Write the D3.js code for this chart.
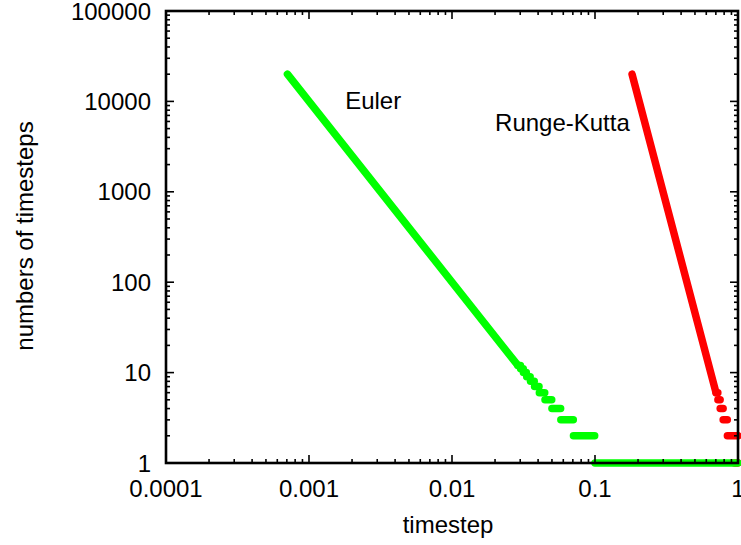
<!DOCTYPE html>
<meta charset="utf-8">
<head>
  <script src="https://d3js.org/d3.v7.min.js"></script>
  <style>
    body { margin: 0; background: #fff; }
    svg { display: block; font-family: "Liberation Sans", Arial, sans-serif; }
  </style>
</head>
<body>
<div id="chart"></div>
<script>

// tick labels
var xTicks = [0.0001, 0.001, 0.01, 0.1, 1];
var xTickLabels = ["0.0001", "0.001", "0.01", "0.1", "1"];
var yTicks = [1, 10, 100, 1000, 10000, 100000];
var yTickLabels = ["1", "10", "100", "1000", "10000", "100000"];

// Euler: dense part (timestep, n) and the plateaus [from, to, n]
var eulerDense = [[0.000707, 20000], [0.0289, 12]];
var eulerSteps = [
  [0.1, 1, 1], [0.0707, 0.0995, 2], [0.0577, 0.0705, 3], [0.05, 0.0575, 4],
  [0.0447, 0.0498, 5], [0.0408, 0.0445, 6], [0.0378, 0.0406, 7], [0.0354, 0.0376, 8],
  [0.0333, 0.0352, 9], [0.0316, 0.0331, 10], [0.0302, 0.0315, 11], [0.0289, 0.0301, 12]
];

// Runge-Kutta
var rkDense = [[0.1816, 20000], [0.7017, 6]];
var rkSteps = [
  [0.9459, 1, 1], [0.8427, 1, 2], [0.7876, 0.842, 3], [0.7507, 0.787, 4],
  [0.7233, 0.750, 5], [0.7017, 0.723, 6]
];

var labels = [
  {text: "Euler", x: 0.00179, y: 8240},
  {text: "Runge-Kutta", x: 0.0200, y: 4710}
];

var W = 741, H = 545;
var margin = {top: 11, right: 3, bottom: 82, left: 166};

var svg = d3.select("#chart").append("svg")
  .attr("width", W).attr("height", H);

var x = d3.scaleLog().domain([0.0001, 1]).range([margin.left, W - margin.right]);
var y = d3.scaleLog().domain([1, 100000]).range([H - margin.bottom, margin.top]);

var line = d3.line().x(function(d) { return x(d[0]); }).y(function(d) { return y(d[1]); });

function drawSeries(dense, steps, color) {
  var g = svg.append("g")
    .attr("stroke", color).attr("stroke-width", 7.5)
    .attr("stroke-linecap", "round").attr("fill", "none");
  g.append("path").attr("d", line(dense));
  g.selectAll("line").data(steps).enter().append("line")
    .attr("x1", function(d) { return x(d[0]); })
    .attr("x2", function(d) { return x(d[1]); })
    .attr("y1", function(d) { return y(d[2]); })
    .attr("y2", function(d) { return y(d[2]); });
}

drawSeries(rkDense, rkSteps, "#ff0000");
drawSeries(eulerDense, eulerSteps, "#00ff00");

// minor ticks
var xMinor = [], yMinor = [];
xTicks.slice(0, -1).forEach(function(t) { for (var k = 2; k < 10; k++) xMinor.push(t * k); });
yTicks.slice(0, -1).forEach(function(t) { for (var k = 2; k < 10; k++) yMinor.push(t * k); });

var x0 = x.range()[0], x1 = x.range()[1], y0 = y.range()[0], y1 = y.range()[1];
var ticks = svg.append("g").attr("stroke", "#000").attr("stroke-width", 1.6);

function xTickLines(vals, len) {
  vals.forEach(function(v) {
    ticks.append("line").attr("x1", x(v)).attr("x2", x(v)).attr("y1", y0).attr("y2", y0 - len);
    ticks.append("line").attr("x1", x(v)).attr("x2", x(v)).attr("y1", y1).attr("y2", y1 + len);
  });
}
function yTickLines(vals, len) {
  vals.forEach(function(v) {
    ticks.append("line").attr("y1", y(v)).attr("y2", y(v)).attr("x1", x0).attr("x2", x0 + len);
    ticks.append("line").attr("y1", y(v)).attr("y2", y(v)).attr("x1", x1).attr("x2", x1 - len);
  });
}
xTickLines(xTicks, 8); xTickLines(xMinor, 4);
yTickLines(yTicks, 8); yTickLines(yMinor, 4);

// border
svg.append("rect")
  .attr("x", x0).attr("y", y1).attr("width", x1 - x0).attr("height", y0 - y1)
  .attr("fill", "none").attr("stroke", "#000").attr("stroke-width", 2.6);

// tick labels
svg.selectAll(".xl").data(xTicks).enter().append("text")
  .attr("x", function(d) { return x(d); })
  .attr("y", y0 + 34)
  .attr("text-anchor", "middle").attr("font-size", 24)
  .text(function(d, i) { return xTickLabels[i]; });

svg.selectAll(".yl").data(yTicks).enter().append("text")
  .attr("x", x0 - 15)
  .attr("y", function(d) { return y(d) + 8.5; })
  .attr("text-anchor", "end").attr("font-size", 24)
  .text(function(d, i) { return yTickLabels[i]; });

// axis titles
svg.append("text").attr("x", 448).attr("y", 533)
  .attr("text-anchor", "middle").attr("font-size", 24).text("timestep");
svg.append("text").attr("transform", "translate(33,236) rotate(-90)")
  .attr("text-anchor", "middle").attr("font-size", 24).text("numbers of timesteps");

// series labels
svg.selectAll(".sl").data(labels).enter().append("text")
  .attr("x", function(d) { return x(d.x); })
  .attr("y", function(d) { return y(d.y); })
  .attr("font-size", 24)
  .text(function(d) { return d.text; });

</script>
</body>
